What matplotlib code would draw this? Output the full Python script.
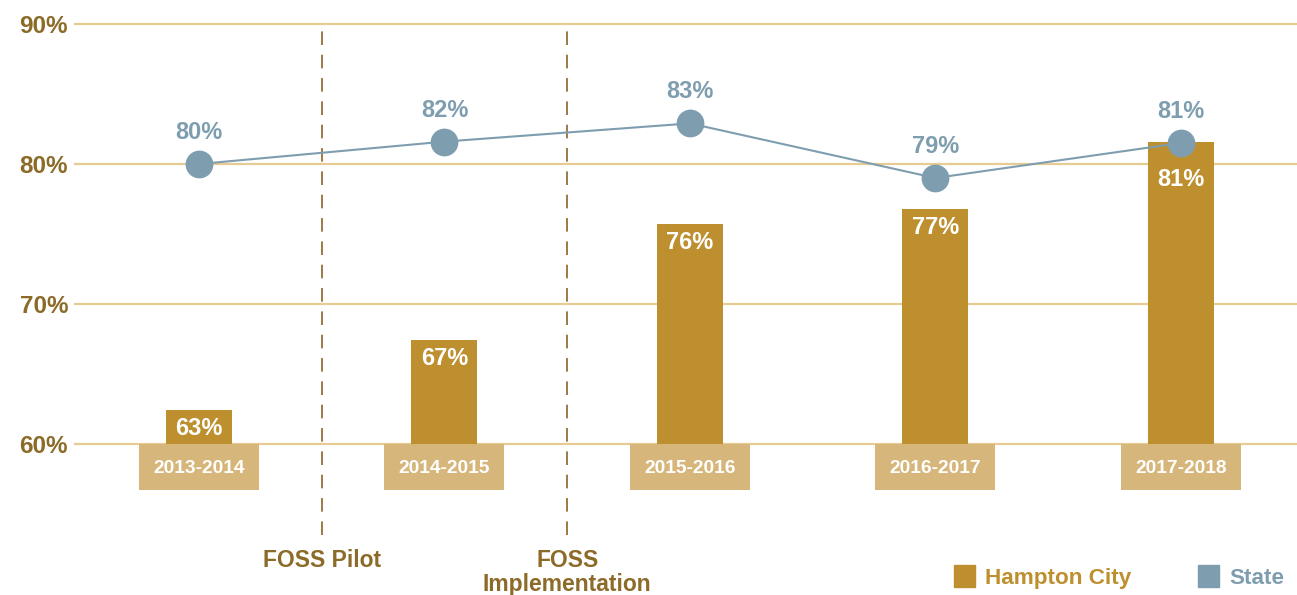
import matplotlib
matplotlib.use("Agg")
import matplotlib.pyplot as plt
from matplotlib.patches import Rectangle

plt.rcParams['font.family'] = ['Liberation Sans', 'DejaVu Sans']

years = ["2013-2014", "2014-2015", "2015-2016", "2016-2017", "2017-2018"]
hampton = [62.4, 67.4, 75.7, 76.8, 81.6]
hampton_labels = ["63%", "67%", "76%", "77%", "81%"]
state = [80.0, 81.6, 82.9, 79.0, 81.5]
state_labels = ["80%", "82%", "83%", "79%", "81%"]
yticks = [60, 70, 80, 90]
ytick_labels = ["60%", "70%", "80%", "90%"]
events = ["FOSS Pilot", "FOSS\nImplementation"]
event_pos = [0.5, 1.5]

GOLD = "#BD8F2E"
GOLD_LIGHT = "#D6B67A"
GRID = "#E6CB93"
DARK_GOLD = "#8C6A28"
BLUE = "#7E9EB0"
DASH = "#9C7A45"

PX = 0.72  # points per pixel at dpi 100

fig = plt.figure(figsize=(12.97, 5.95), dpi=100)
ax = fig.add_axes([75/1297, 151/595, 1222/1297, 420/595])
ax.set_xlim(-0.505, 4.473)
ax.set_ylim(60, 90)
for s in ax.spines.values():
    s.set_visible(False)
ax.set_yticks(yticks)
ax.set_yticklabels(ytick_labels, fontsize=17.5, fontweight='bold', color=DARK_GOLD)
ax.tick_params(axis='y', length=0, pad=5)
ax.set_xticks([])
for y in yticks:
    ax.axhline(y, color=GRID, lw=1.6, zorder=1, clip_on=False)

x = list(range(len(years)))
ax.bar(x, [h - 60 for h in hampton], bottom=60, width=0.269, color=GOLD, zorder=2)

# category boxes below baseline
ax.bar(x, [3.3] * len(x), bottom=56.7, width=0.489, color=GOLD_LIGHT, zorder=2, clip_on=False)
for xi, yr in zip(x, years):
    ax.annotate(yr, (xi, 60), xytext=(0, -29 * PX), textcoords='offset points',
                ha='center', va='baseline', color='white', fontsize=13.8,
                fontweight='bold', zorder=3, annotation_clip=False)

# bar value labels
label_offsets = [25, 25, 25, 25, 44]
for xi, h, lab, off in zip(x, hampton, hampton_labels, label_offsets):
    ax.annotate(lab, (xi, h), xytext=(0, -off * PX), textcoords='offset points',
                ha='center', va='baseline', color='white', fontsize=17, fontweight='bold', zorder=5)

# state line
ax.plot(x, state, color=BLUE, lw=1.5, marker='o', markersize=20, markeredgewidth=0, zorder=4)
for xi, v, lab in zip(x, state, state_labels):
    ax.annotate(lab, (xi, v), xytext=(0, 25 * PX), textcoords='offset points', ha='center',
                va='baseline', color=BLUE, fontsize=17, fontweight='bold', zorder=5)

# event dashed lines
for ep, ev in zip(event_pos, events):
    ax.plot([ep, ep], [53.5, 90], color=DASH, lw=1.4, dashes=(7, 5), zorder=1.5, clip_on=False)
    ax.annotate(ev, (ep, 53.5), xytext=(0, -14 * PX), textcoords='offset points',
                ha='center', va='top', color=DARK_GOLD, fontsize=16.5,
                fontweight='bold', linespacing=1.05, annotation_clip=False)

# legend
def fx(px):
    return px / 1297
def fy(py):
    return 1 - py / 595
fig.patches.append(Rectangle((fx(954), fy(587)), 21/1297, 22/595, transform=fig.transFigure,
                             color=GOLD, figure=fig))
fig.text(fx(985), fy(584), "Hampton City", ha='left', va='baseline', color=GOLD, fontsize=16.2, fontweight='bold')
fig.patches.append(Rectangle((fx(1198), fy(587)), 21/1297, 22/595, transform=fig.transFigure,
                             color=BLUE, figure=fig))
fig.text(fx(1229), fy(584), "State", ha='left', va='baseline', color=BLUE, fontsize=16.2, fontweight='bold')

fig.savefig("out.png", dpi=100)
